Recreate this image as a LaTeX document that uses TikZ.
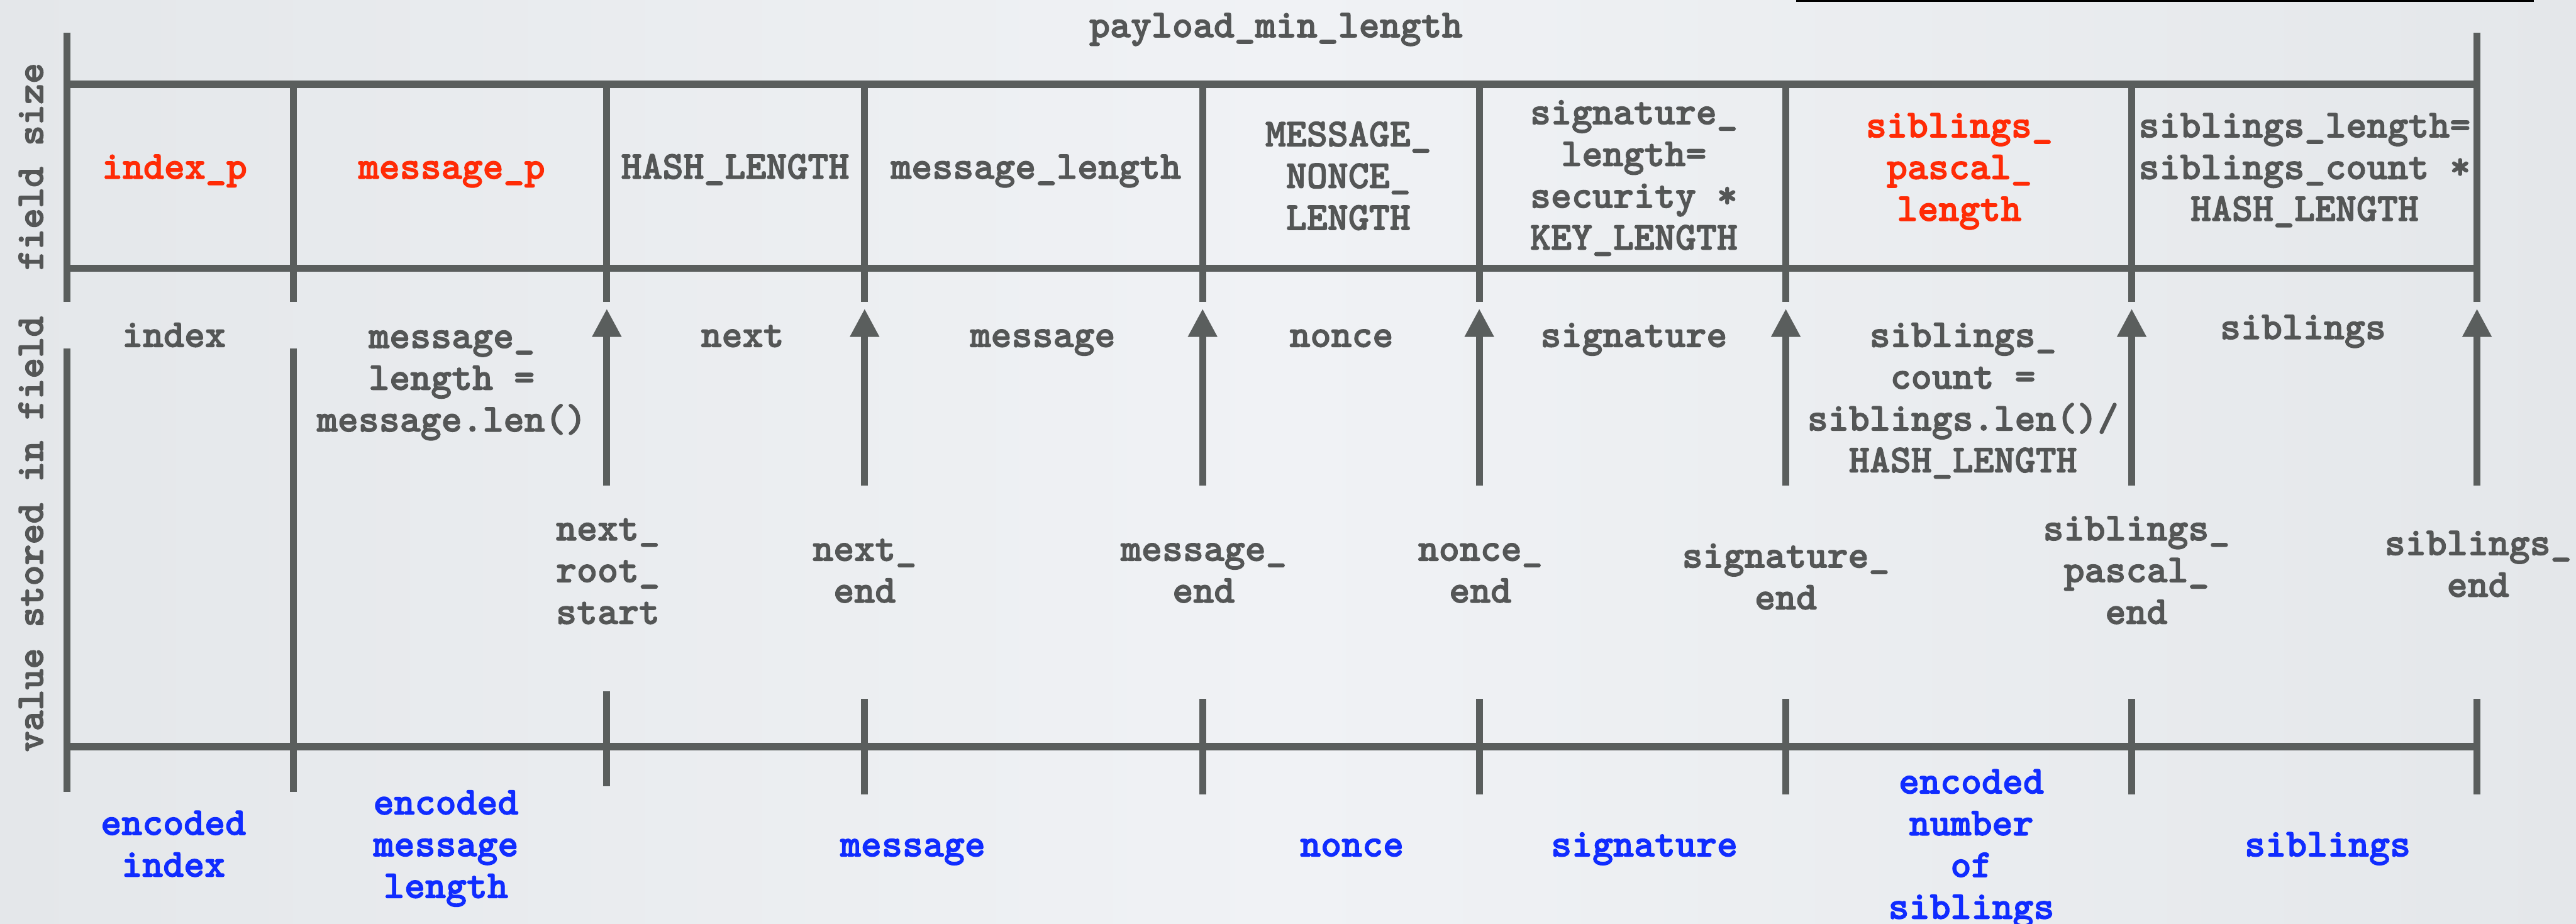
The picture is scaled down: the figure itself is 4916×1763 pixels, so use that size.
\documentclass[tikz,border=0pt]{standalone}
\usepackage{fontspec}
\newfontfamily\codefont{lmmonolt10-bold}[Extension=.otf, FakeBold=2]
\usetikzlibrary{arrows.meta}

\definecolor{rulegray}{RGB}{90,94,93}
\definecolor{inkgray}{RGB}{84,86,86}
\definecolor{keyred}{RGB}{255,43,6}
\definecolor{encblue}{RGB}{16,44,255}
\definecolor{bgmid}{RGB}{240,242,245}
\definecolor{bgedge}{RGB}{228,231,234}

% centred multi-line label whose baseline is the first line
\newcommand\lines[1]{\begin{tabular}[t]{@{}c@{}}#1\end{tabular}}

\tikzset{
  lbl/.style={inner sep=0pt, anchor=base, text=inkgray,
              font=\codefont\fontsize{7.54}{7.97}\selectfont},
  keylbl/.style={lbl, text=keyred},
  enclbl/.style={lbl, text=encblue},
  axislbl/.style={lbl, rotate=90},
  hrule/.style={draw=rulegray, line width=1.4pt},
  vrule/.style={draw=rulegray, line width=1.3pt},
  pointer/.style={vrule, -{Triangle[length=5.4pt,width=5.3pt]}},
}

\begin{document}
\begin{tikzpicture}[x=0.1pt,y=-0.1pt]
  % page and background
  \useasboundingbox (0,0) rectangle (4916,1763);
  \shade[left color=bgedge, right color=bgedge, middle color=bgmid]
    (0,0) rectangle (4916,1763);

  % column boundaries
  \foreach \n/\x in {0/128,1/560,2/1158,3/1650,4/2295,5/2823,6/3408,7/4068,8/4727}{
    \coordinate (top\n) at (\x,161);
    \coordinate (mid\n) at (\x,512);
    \coordinate (stop\n) at (\x,576);
    \coordinate (resume\n) at (\x,665);
    \coordinate (foot\n) at (\x,1511);
    \coordinate (tip\n) at (\x,589);
    \coordinate (tail\n) at (\x,927);
    \coordinate (base\n) at (\x,1425);
    \coordinate (ticktop\n) at (\x,1334);
    \coordinate (tickbot\n) at (\x,1516);
  }
  \coordinate (ticktop2) at (1158,1319);
  \coordinate (tickbot2) at (1158,1500);
  \coordinate (cap0) at (128,62);
  \coordinate (cap8) at (4727,62);

  % frame edge at the top right
  \coordinate (frameA) at (3429,0);
  \coordinate (frameB) at (3429,1.6);
  \coordinate (frameC) at (4834,1.6);
  \coordinate (frameD) at (4834,0);
  \draw[black, line width=0.35pt] (frameA) -- (frameB) -- (frameC) -- (frameD);

  % field size table
  \draw[hrule] (top0) -- (top8);
  \draw[hrule] (mid0) -- (mid8);
  \draw[vrule] (cap0) -- (stop0);
  \draw[vrule] (cap8) -- (stop8);
  \foreach \n in {1,...,7}{ \draw[vrule] (top\n) -- (stop\n); }

  % value pointers
  \draw[vrule] (resume0) -- (foot0);
  \draw[vrule] (resume1) -- (foot1);
  \foreach \n in {2,...,8}{
    \draw[pointer] (tail\n) -- (tip\n);
    \draw[vrule] (ticktop\n) -- (tickbot\n);
  }

  % encoding line
  \draw[hrule] (base0) -- (base8);

  % axis labels
  \node[axislbl] (fieldsize) at (82,318) {field size};
  \node[axislbl] (valuestored) at (82,1019) {value stored in field};

  % field sizes
  \node[lbl] (payload) at (2435,71) {payload\_min\_length};
  \node[keylbl] (indexp) at (333,341) {index\_p};
  \node[keylbl] (messagep) at (862,341) {message\_p};
  \node[lbl] (hashlen) at (1403,341) {HASH\_LENGTH};
  \node[lbl] (msglen) at (1977,341) {message\_length};
  \node[lbl] (noncelen) at (2573,279) {\lines{MESSAGE\_\\NONCE\_\\LENGTH}};
  \node[lbl] (siglen) at (3118,237) {\lines{signature\_\\length=\\security *\\KEY\_LENGTH}};
  \node[keylbl] (pascallen) at (3739,262) {\lines{siblings\_\\pascal\_\\length}};
  \node[lbl] (siblen) at (4398,262) {\lines{siblings\_length=\\siblings\_count *\\HASH\_LENGTH}};

  % stored values
  \node[lbl] (vindex) at (332,662) {index};
  \node[lbl] (vmsglen) at (862,664) {\lines{message\_\\length =\\message.len()}};
  \node[lbl] (vnext) at (1417,662) {next};
  \node[lbl] (vmessage) at (1990,662) {message};
  \node[lbl] (vnonce) at (2560,662) {nonce};
  \node[lbl] (vsignature) at (3118,662) {signature};
  \node[lbl] (vcount) at (3746,662) {\lines{siblings\_\\count =\\siblings.len()/\\HASH\_LENGTH}};
  \node[lbl] (vsiblings) at (4395,647) {siblings};

  % offsets
  \node[lbl] (nextroot) at (1160,1031) {\lines{next\_\\root\_\\start}};
  \node[lbl] (nextend) at (1650,1070) {\lines{next\_\\end}};
  \node[lbl] (msgend) at (2297,1070) {\lines{message\_\\end}};
  \node[lbl] (nonceend) at (2825,1070) {\lines{nonce\_\\end}};
  \node[lbl] (sigend) at (3408,1083) {\lines{signature\_\\end}};
  \node[lbl] (pascalend) at (4077,1031) {\lines{siblings\_\\pascal\_\\end}};
  \node[lbl] (sibend) at (4729,1059) {\lines{siblings\_\\end}};

  % encodings
  \node[enclbl] (eindex) at (331,1593) {\lines{encoded\\index}};
  \node[enclbl] (emsglen) at (851,1554) {\lines{encoded\\message\\length}};
  \node[enclbl] (emessage) at (1742,1634) {message};
  \node[enclbl] (enonce) at (2580,1634) {nonce};
  \node[enclbl] (esignature) at (3138,1634) {signature};
  \node[enclbl] (ecount) at (3762,1514) {\lines{encoded\\number\\of\\siblings}};
  \node[enclbl] (esiblings) at (4442,1634) {siblings};
\end{tikzpicture}
\end{document}
